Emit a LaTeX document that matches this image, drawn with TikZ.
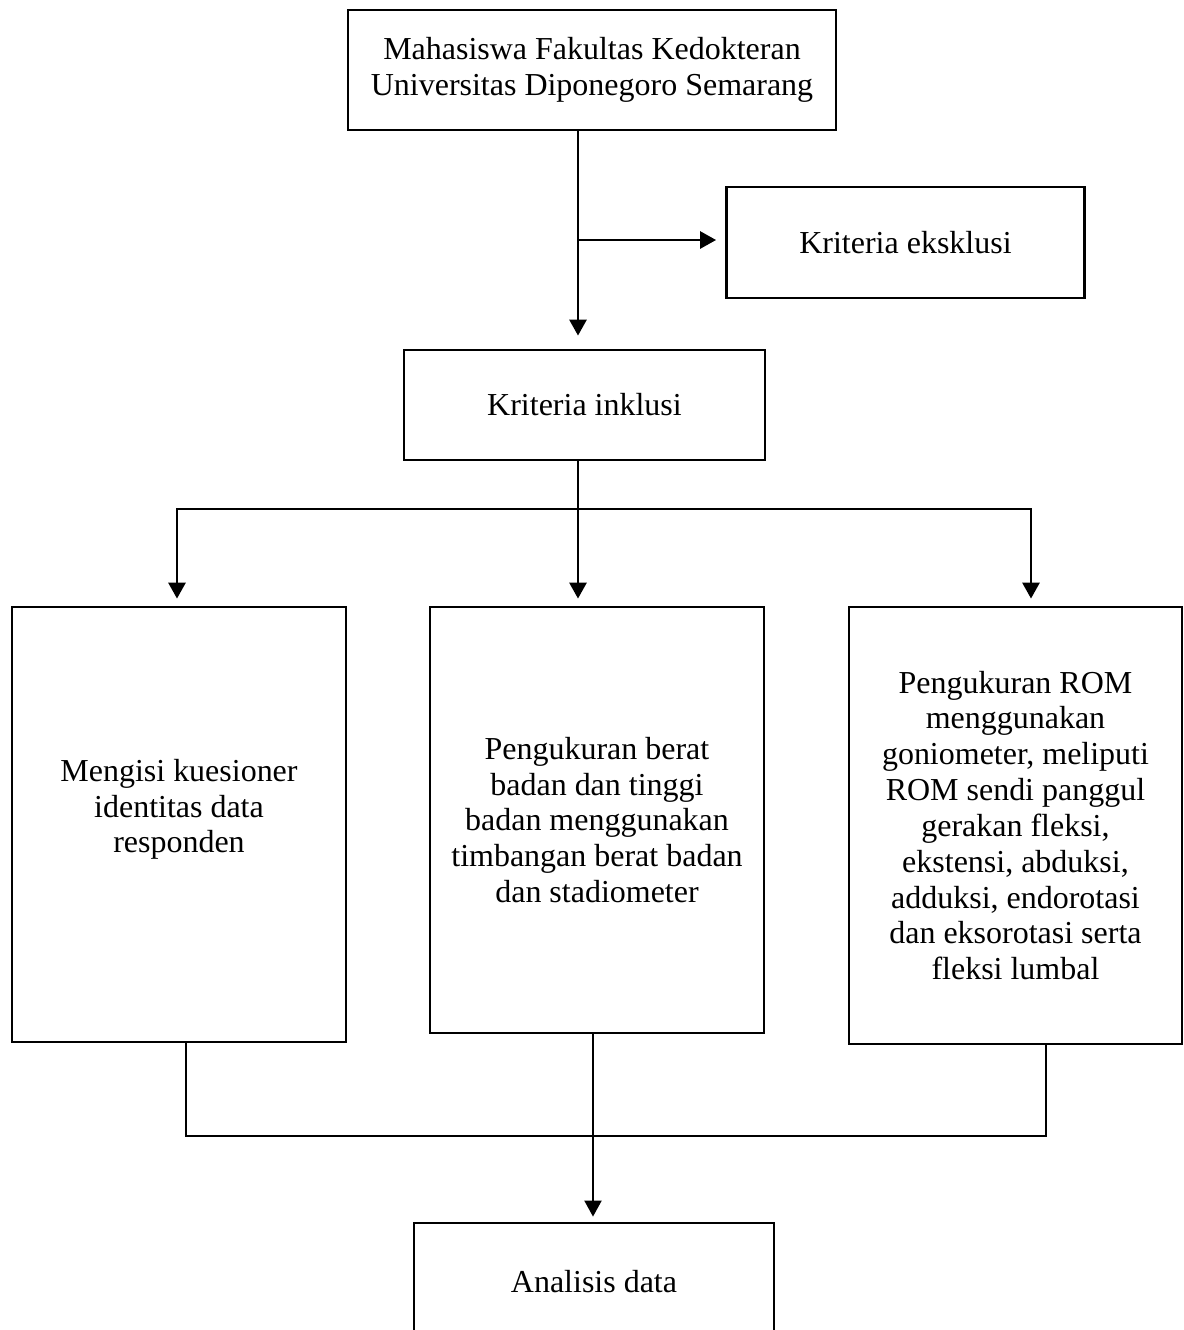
\documentclass[tikz,border=0pt]{standalone}
\usepackage{fontspec}
\setmainfont{Liberation Serif}
\usepackage{tikz}
\usetikzlibrary{arrows.meta, positioning, calc}

\begin{document}
\begin{tikzpicture}[
    box/.style={draw, rectangle, line width=1.6pt, align=center, inner sep=0pt,
      font=\fontsize{18.2}{20.4}\selectfont},
    arr/.style={-{Triangle[width=0.34cm,length=0.32cm]}, line width=1.6pt},
    link/.style={line width=1.2pt}
  ]
  \useasboundingbox (0,0) rectangle (23.68,-26.6);
  % Top part
  \node[box, minimum width=9.76cm, minimum height=2.4cm] (mhs) at (11.84,-1.4)
    {Mahasiswa Fakultas Kedokteran\\Universitas Diponegoro Semarang};
  \node[box, minimum width=7.16cm, minimum height=2.22cm] (eksklusi) at (18.11,-4.85)
    {Kriteria eksklusi};
  \node[box, minimum width=7.22cm, minimum height=2.2cm] (inklusi) at (11.69,-8.1)
    {Kriteria inklusi};
  \coordinate (trunk) at (11.56,-4.8);
  \draw[arr, shorten >=0.26cm] (mhs.south -| trunk) -- (inklusi.north -| trunk);
  \draw[arr, shorten >=0.18cm] (trunk) -- (eksklusi.west |- trunk);
  % Three measurements
  \node[box, minimum width=6.68cm, minimum height=8.7cm, text depth=0.74cm] (kuesioner) at (3.58,-16.49)
    {Mengisi kuesioner\\identitas data\\responden};
  \node[box, minimum width=6.68cm, minimum height=8.52cm] (berat) at (11.94,-16.4)
    {Pengukuran berat\\badan dan tinggi\\badan menggunakan\\timbangan berat badan\\dan stadiometer};
  \node[box, minimum width=6.66cm, minimum height=8.74cm] (rom) at (20.31,-16.51)
    {Pengukuran ROM\\menggunakan\\goniometer, meliputi\\ROM sendi panggul\\gerakan fleksi,\\ekstensi, abduksi,\\adduksi, endorotasi\\dan eksorotasi serta\\fleksi lumbal};
  \coordinate (splitL) at (3.54,-10.18);
  \coordinate (splitM) at (11.56,-10.18);
  \coordinate (splitR) at (20.62,-10.18);
  \draw[arr, shorten >=0.14cm] (inklusi.south -| splitM) -- (kuesioner.north -| splitM);
  \draw[arr, shorten >=0.14cm] (splitM) -- (splitL) -- (kuesioner.north -| splitL);
  \draw[arr, shorten >=0.14cm] (splitM) -- (splitR) -- (rom.north -| splitR);
  % Analysis
  \node[box, minimum width=7.2cm, minimum height=2.36cm] (analisis) at (11.88,-25.64)
    {Analisis data};
  \coordinate (joinL) at (3.72,-22.72);
  \coordinate (joinM) at (11.86,-22.72);
  \coordinate (joinR) at (20.92,-22.72);
  \draw[link] (kuesioner.south -| joinL) -- (joinL) -- (joinR) -- (rom.south -| joinR);
  \draw[arr, line width=1.2pt, shorten >=0.1cm] (berat.south -| joinM) -- (analisis.north -| joinM);
\end{tikzpicture}
\end{document}
